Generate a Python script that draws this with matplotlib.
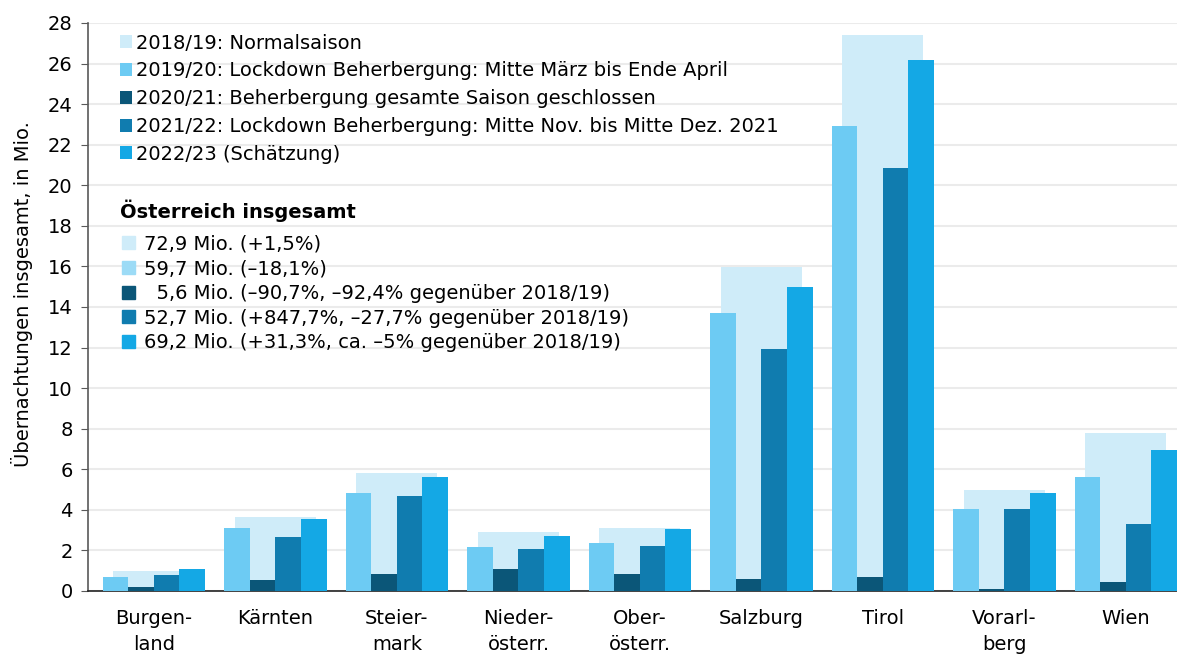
import numpy as np
import matplotlib.pyplot as plt
from matplotlib.patches import Patch

plt.rcParams['font.family'] = ['DejaVu Sans']

# Daten (Mio. Übernachtungen je Bundesland)
regionen = ['Burgen-\nland', 'Kärnten', 'Steier-\nmark', 'Nieder-\nösterr.', 'Ober-\nösterr.',
            'Salzburg', 'Tirol', 'Vorarl-\nberg', 'Wien']
s1819 = [1.0, 3.65, 5.83, 2.9, 3.12, 15.95, 27.4, 4.96, 7.77]
s1920 = [0.69, 3.12, 4.85, 2.15, 2.37, 13.7, 22.9, 4.06, 5.62]
s2021 = [0.21, 0.54, 0.85, 1.1, 0.82, 0.58, 0.67, 0.12, 0.44]
s2122 = [0.79, 2.66, 4.68, 2.05, 2.23, 11.93, 20.85, 4.02, 3.3]
s2223 = [1.07, 3.55, 5.63, 2.7, 3.06, 15.0, 26.2, 4.81, 6.95]

labels1 = ['2018/19: Normalsaison',
           '2019/20: Lockdown Beherbergung: Mitte März bis Ende April',
           '2020/21: Beherbergung gesamte Saison geschlossen',
           '2021/22: Lockdown Beherbergung: Mitte Nov. bis Mitte Dez. 2021',
           '2022/23 (Schätzung)']
titel2 = 'Österreich insgesamt'
labels2 = ['72,9 Mio. (+1,5%)',
           '59,7 Mio. (\u201318,1%)',
           '  5,6 Mio. (\u201390,7%, \u201392,4% gegenüber 2018/19)',
           '52,7 Mio. (+847,7%, \u201327,7% gegenüber 2018/19)',
           '69,2 Mio. (+31,3%, ca. \u20135% gegenüber 2018/19)']

farben = ['#CFECF9', '#6DCBF3', '#0B5678', '#107CAF', '#14A8E5']
farben2 = ['#CFECF9', '#9CDBF6', '#0B5678', '#107CAF', '#14A8E5']

fs = 14

fig = plt.figure(figsize=(11.77, 6.55), dpi=100)
ax = fig.add_axes([88/1177, 1-591/655, 1089/1177, 568/655])

x = np.arange(len(regionen))
w = 0.21
b0 = ax.bar(x, s1819, width=0.667, color=farben[0], zorder=2)
bars = [b0]
for i, s in enumerate([s1920, s2021, s2122, s2223]):
    b = ax.bar(x + (i - 1.5) * w, s, width=w, color=farben[i+1], zorder=3)
    bars.append(b)

ax.set_xlim(-0.543, 8.42)
ax.set_ylim(0, 28)
ax.set_yticks(range(0, 29, 2))
ax.yaxis.grid(True, color='#EBEBEB', linewidth=1.5, zorder=0)
ax.set_axisbelow(True)
ax.set_xticks(x)
ax.set_xticklabels(regionen, fontsize=fs, linespacing=1.45, va='top')
ax.tick_params(axis='x', length=0, pad=13)
ax.tick_params(axis='y', length=5, color='#595959', labelsize=fs, pad=6)
for sp in ['top', 'right']:
    ax.spines[sp].set_visible(False)
ax.spines['left'].set_color('#595959')
ax.spines['left'].set_linewidth(1.2)
ax.spines['bottom'].set_color('#222222')
ax.spines['bottom'].set_linewidth(1.2)
ax.set_ylabel('Übernachtungen insgesamt, in Mio.', fontsize=fs)
ax.yaxis.set_label_coords(-0.0505, 0.523)

leg1 = ax.legend(bars, labels1, loc='upper left', bbox_to_anchor=(0.022, 0.995),
                 frameon=False, fontsize=fs, handlelength=0.65, handleheight=0.65,
                 handletextpad=0.2, labelspacing=0.45, borderaxespad=0)
ax.add_artist(leg1)

ax.text(0.029, 0.669, titel2, transform=ax.transAxes, fontsize=fs,
        fontweight='bold', va='center', ha='left')

patches = [Patch(color=c) for c in farben2]
leg2 = ax.legend(patches, labels2, loc='upper left', bbox_to_anchor=(0.024, 0.641),
                 frameon=False, fontsize=fs, handlelength=0.65, handleheight=0.65,
                 handletextpad=0.5, labelspacing=0.29, borderaxespad=0)

plt.savefig('out.png', dpi=100)
